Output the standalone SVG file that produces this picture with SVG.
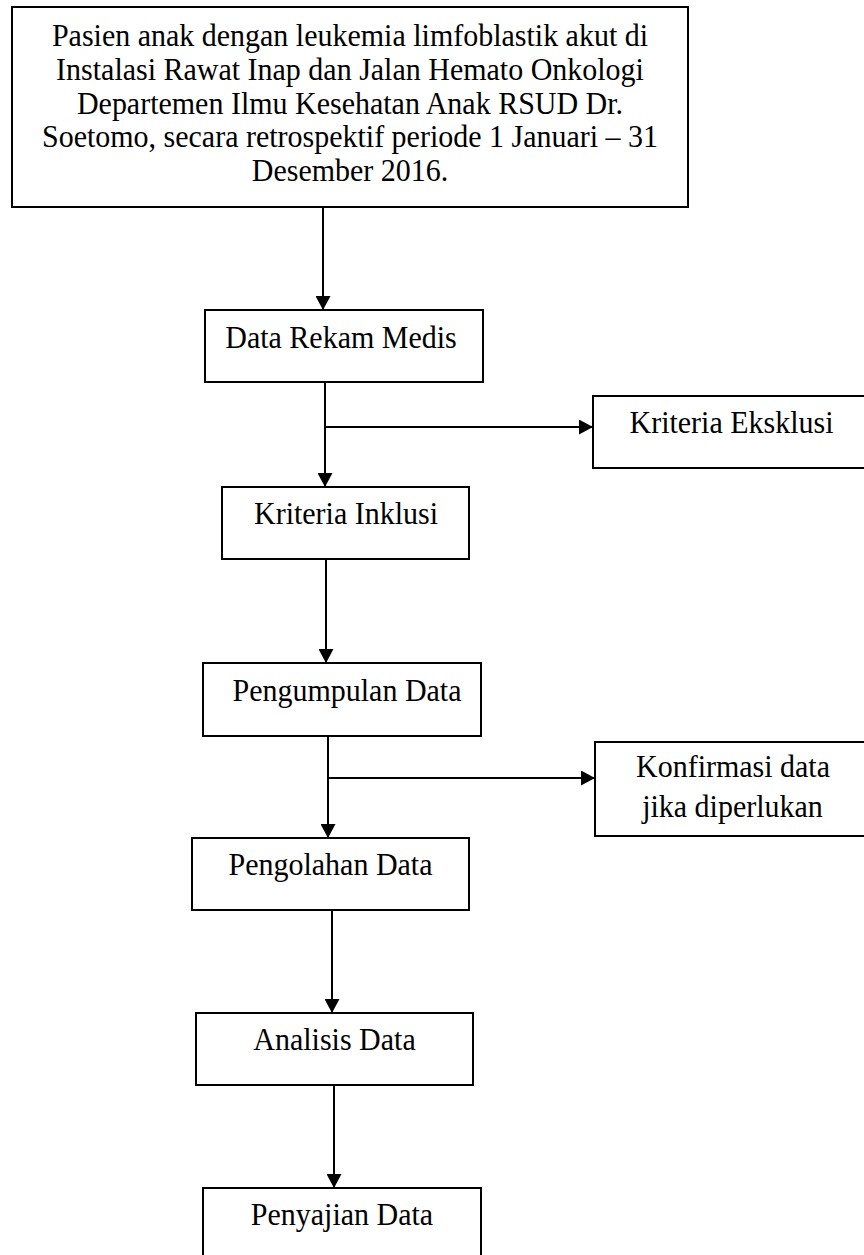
<svg xmlns="http://www.w3.org/2000/svg" width="864" height="1255" viewBox="0 0 864 1255">
<style>
.box{fill:#fff;stroke:#000;stroke-width:2}
.t{font-family:"Liberation Serif","Times New Roman",serif;font-size:30px;fill:#000;text-anchor:middle}
.c{fill:none;stroke:#000;stroke-width:2}
</style>
<defs>
<marker id="ah" viewBox="0 0 14 15" refX="14" refY="7.5" markerWidth="14" markerHeight="15" markerUnits="userSpaceOnUse" orient="auto">
<path d="M0,0 L14,7.5 L0,15 z" fill="#000"/>
</marker>
</defs>
<rect width="864" height="1255" fill="#fff"/>
<g id="connectors">
<line class="c" x1="323" y1="208" x2="323" y2="310" marker-end="url(#ah)"/>
<line class="c" x1="325" y1="382" x2="325" y2="487" marker-end="url(#ah)"/>
<line class="c" x1="325" y1="427" x2="593" y2="427" marker-end="url(#ah)"/>
<line class="c" x1="326" y1="559" x2="326" y2="663" marker-end="url(#ah)"/>
<line class="c" x1="328" y1="736" x2="328" y2="838" marker-end="url(#ah)"/>
<line class="c" x1="328" y1="778" x2="595" y2="778" marker-end="url(#ah)"/>
<line class="c" x1="332" y1="910" x2="332" y2="1013" marker-end="url(#ah)"/>
<line class="c" x1="334" y1="1085" x2="334" y2="1188" marker-end="url(#ah)"/>
</g>
<g id="node-pasien">
<rect class="box" x="12" y="7" width="676" height="200"/>
<text class="t" transform="translate(350,46) scale(1,1.07)">Pasien anak dengan leukemia limfoblastik akut di</text>
<text class="t" transform="translate(350,79.5) scale(1,1.07)">Instalasi Rawat Inap dan Jalan Hemato Onkologi</text>
<text class="t" transform="translate(350,113.5) scale(1,1.07)">Departemen Ilmu Kesehatan Anak RSUD Dr.</text>
<text class="t" transform="translate(350,147) scale(1,1.07)">Soetomo, secara retrospektif periode 1 Januari – 31</text>
<text class="t" transform="translate(350,181) scale(1,1.07)">Desember 2016.</text>
</g>
<g id="node-rekam">
<rect class="box" x="205" y="310" width="278" height="72"/>
<text class="t" transform="translate(341,348) scale(1,1.07)">Data Rekam Medis</text>
</g>
<g id="node-eksklusi">
<rect class="box" x="593" y="396" width="280" height="72"/>
<text class="t" transform="translate(731.5,433) scale(1,1.07)">Kriteria Eksklusi</text>
</g>
<g id="node-inklusi">
<rect class="box" x="222" y="487" width="247" height="72"/>
<text class="t" transform="translate(346,524) scale(1,1.07)">Kriteria Inklusi</text>
</g>
<g id="node-pengumpulan">
<rect class="box" x="203" y="663" width="278" height="73"/>
<text class="t" transform="translate(347,701) scale(1,1.07)">Pengumpulan Data</text>
</g>
<g id="node-konfirmasi">
<rect class="box" x="595" y="742" width="280" height="94"/>
<text class="t" transform="translate(733,777) scale(1,1.07)">Konfirmasi data</text>
<text class="t" transform="translate(732.5,817) scale(1,1.07)">jika diperlukan</text>
</g>
<g id="node-pengolahan">
<rect class="box" x="192" y="838" width="277" height="72"/>
<text class="t" transform="translate(330.5,875) scale(1,1.07)">Pengolahan Data</text>
</g>
<g id="node-analisis">
<rect class="box" x="196" y="1013" width="277" height="72"/>
<text class="t" transform="translate(334.5,1050) scale(1,1.07)">Analisis Data</text>
</g>
<g id="node-penyajian">
<rect class="box" x="203" y="1188" width="278" height="80"/>
<text class="t" transform="translate(342,1225) scale(1,1.07)">Penyajian Data</text>
</g>
</svg>
